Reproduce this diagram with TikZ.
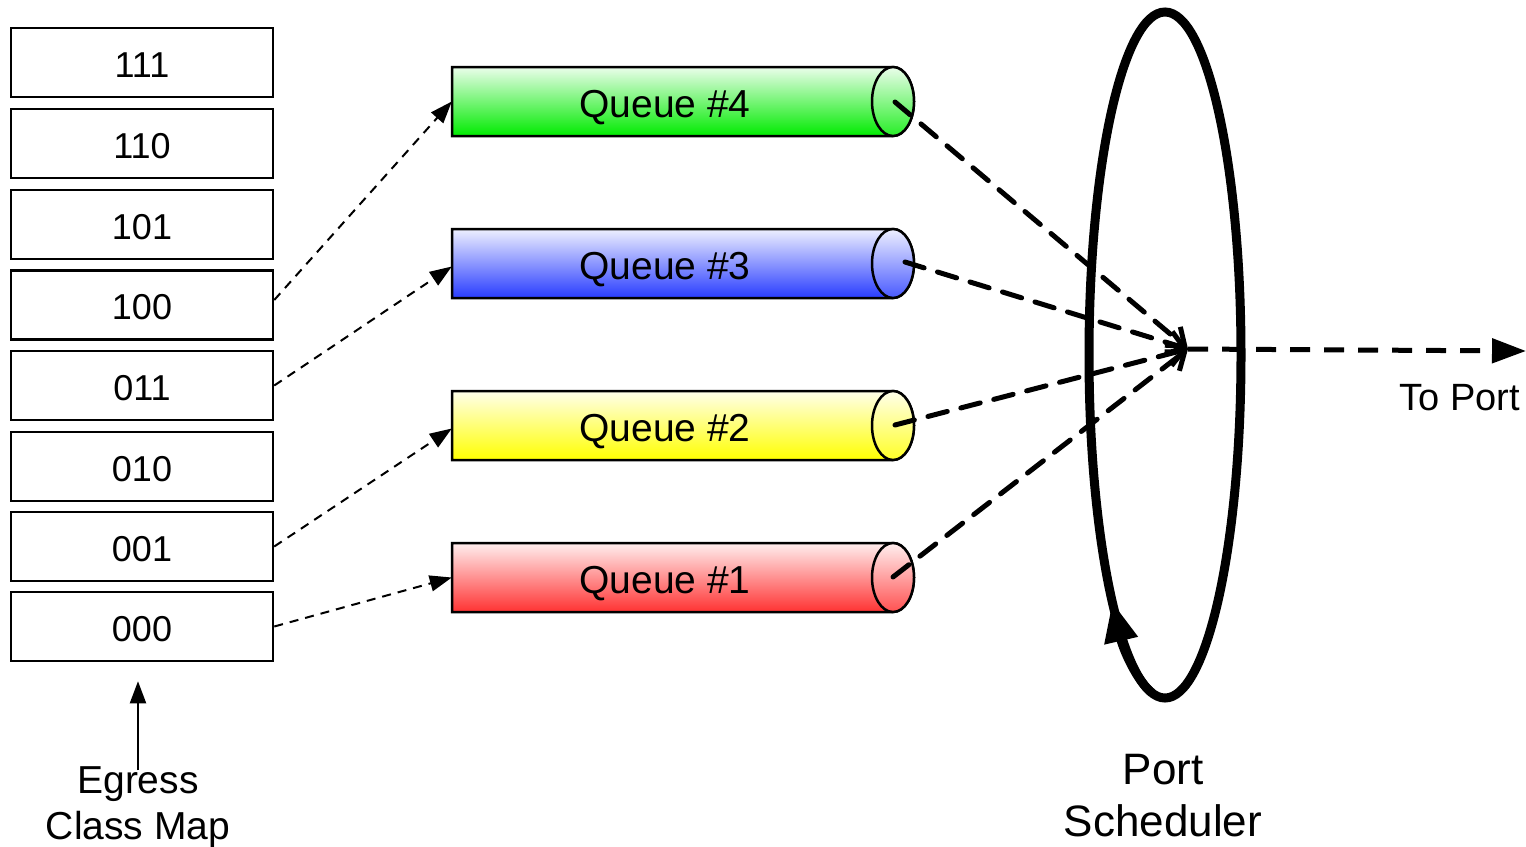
\documentclass[tikz,border=0pt]{standalone}
\usepackage{fontspec}
\setmainfont{Liberation Sans}
\usetikzlibrary{arrows.meta}
\definecolor{qgreen}{RGB}{0,235,0}
\definecolor{qblue}{RGB}{40,60,255}
\definecolor{qyellow}{RGB}{255,255,0}
\definecolor{qred}{RGB}{255,50,50}
\newcommand\drawqueue[4]{%
  \shadedraw[top color=#3!8, bottom color=#3, draw=black, line width=2.5]
    (452,#2-34.5) -- (893,#2-34.5) arc[start angle=-90,end angle=90,x radius=21,y radius=34.5] -- (452,#2+34.5) -- cycle;
  \shadedraw[top color=#3!8, bottom color=#3!85!white, draw=black, line width=2.5]
    (893,#2) ellipse[x radius=21,y radius=34.5];
  \node[qbox] (#1) at (672.5,#2) {};
  \node[qtext] (#1t) at (665,#2+15.5) {#4};
}
\tikzset{
  mapbox/.style={draw, line width=2.5, minimum width=262, minimum height=69, inner sep=0, text height=29pt, text depth=0pt, font=\fontsize{36}{40}\selectfont},
  qbox/.style={minimum width=441, minimum height=69, inner sep=0},
  qtext/.style={anchor=base, inner sep=0, font=\fontsize{39}{40}\selectfont},
  thinarrow/.style={line width=2, dash pattern=on 9 off 7, -{Triangle[length=22,width=16]}},
  qline/.style={line width=5, dash pattern=on 20 off 14, line cap=round, -{Straight Barb[length=16,width=24,line width=5]}},
  lbl/.style={align=center, inner sep=0, font=\fontsize{38}{46}\selectfont},
}
\begin{document}
\begin{tikzpicture}[x=1pt,y=-1pt]
\useasboundingbox (0,0) rectangle (1526,846);
% class map
\node[mapbox] (b111) at (142,62.5) {111};
\node[mapbox] (b110) at (142,143.5) {110};
\node[mapbox] (b101) at (142,224.5) {101};
\node[mapbox] (b100) at (142,305) {100};
\node[mapbox] (b011) at (142,385.5) {011};
\node[mapbox] (b010) at (142,466.5) {010};
\node[mapbox] (b001) at (142,546.5) {001};
\node[mapbox] (b000) at (142,626.5) {000};
\node[lbl, font=\fontsize{39}{46}\selectfont] (ecm) at (138,807) {Egress\\Class Map};
\draw[line width=2, -{Triangle[length=22,width=16]}, shorten >=19] ([yshift=-4pt]ecm.north) -- (b000.south -| ecm.north);
% queues
\drawqueue{q4}{101.5}{qgreen}{Queue \#4}
\drawqueue{q3}{263.5}{qblue}{Queue \#3}
\drawqueue{q2}{425.5}{qyellow}{Queue \#2}
\drawqueue{q1}{577.5}{qred}{Queue \#1}
\coordinate (q4c) at (895,102);
\coordinate (q3c) at (905,262);
\coordinate (q2c) at (895,425);
\coordinate (q1c) at (893,577);
% map -> queue arrows
\draw[thinarrow] (b100.east) ++(0,-5) -- (q4.west);
\draw[thinarrow] (b011.east) -- ([yshift=-3pt]q3.west);
\draw[thinarrow] (b001.east) -- ([yshift=-3pt]q2.west);
\draw[thinarrow] (b000.east) -- (q1.west);
% scheduler
\draw[line width=9] (1165,355) ellipse[x radius=76,y radius=343];
\draw[line width=9, -{Triangle[length=40,width=32]}] (1165,355) ++(100:76 and 343) arc[start angle=100,end angle=134,x radius=76,y radius=343];
\node[lbl, font=\fontsize{44}{52}\selectfont] (ps) at (1163,796) {Port\\Scheduler};
% convergence
\coordinate (conv) at (1188,349);
\coordinate (outend) at (1526,351);
\draw[qline] (q4c) -- (conv);
\draw[qline] (q3c) -- (conv);
\draw[qline] (q2c) -- (conv);
\draw[qline] (q1c) -- (conv);
\draw[line width=5, dash pattern=on 20 off 14, -{Triangle[length=34,width=24]}] (conv) -- (outend);
\node[lbl] (tp) at (1460,398) {To Port};
\end{tikzpicture}
\end{document}
